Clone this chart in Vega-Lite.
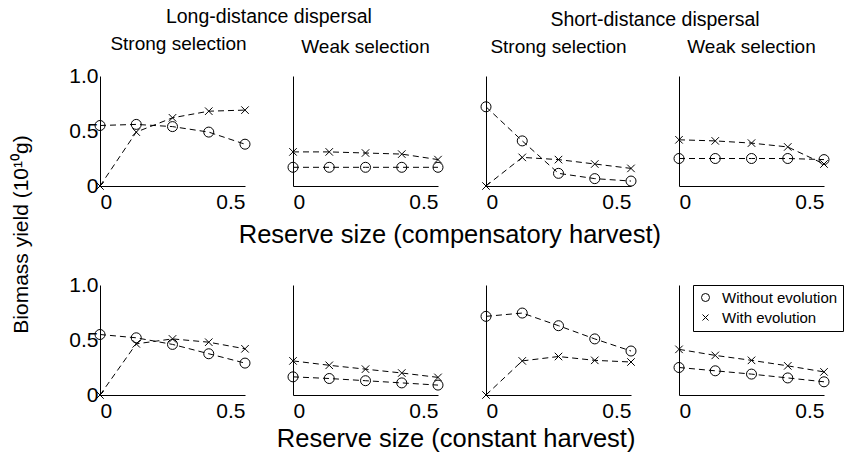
{
  "$schema": "https://vega.github.io/schema/vega-lite/v6.json",
  "padding": {"left": 10, "top": 6, "right": 0, "bottom": 0},
  "background": "white",
  "config": {
    "view": {"stroke": null},
    "font": "Liberation Sans",
    "axis": {"grid": false, "ticks": false, "domainColor": "black", "domainWidth": 1, "labelColor": "black", "labelFontSize": 21, "labelFont": "Liberation Sans", "title": null, "labelPadding": 3},
    "axisX": {"labelPadding": 5},
    "title": {"fontSize": 19.5, "fontWeight": "normal", "color": "black", "font": "Liberation Sans", "anchor": "middle"},
    "concat": {"spacing": 34}
  },
  "datasets": {
    "yields": [
      {"panel": 1, "evolution": "Without evolution", "reserve": 0, "yield": 0.55},
      {"panel": 1, "evolution": "Without evolution", "reserve": 0.125, "yield": 0.56},
      {"panel": 1, "evolution": "Without evolution", "reserve": 0.25, "yield": 0.54},
      {"panel": 1, "evolution": "Without evolution", "reserve": 0.375, "yield": 0.49},
      {"panel": 1, "evolution": "Without evolution", "reserve": 0.5, "yield": 0.38},
      {"panel": 1, "evolution": "With evolution", "reserve": 0, "yield": 0},
      {"panel": 1, "evolution": "With evolution", "reserve": 0.125, "yield": 0.49},
      {"panel": 1, "evolution": "With evolution", "reserve": 0.25, "yield": 0.62},
      {"panel": 1, "evolution": "With evolution", "reserve": 0.375, "yield": 0.68},
      {"panel": 1, "evolution": "With evolution", "reserve": 0.5, "yield": 0.69},
      {"panel": 2, "evolution": "Without evolution", "reserve": 0, "yield": 0.17},
      {"panel": 2, "evolution": "Without evolution", "reserve": 0.125, "yield": 0.17},
      {"panel": 2, "evolution": "Without evolution", "reserve": 0.25, "yield": 0.17},
      {"panel": 2, "evolution": "Without evolution", "reserve": 0.375, "yield": 0.17},
      {"panel": 2, "evolution": "Without evolution", "reserve": 0.5, "yield": 0.17},
      {"panel": 2, "evolution": "With evolution", "reserve": 0, "yield": 0.31},
      {"panel": 2, "evolution": "With evolution", "reserve": 0.125, "yield": 0.31},
      {"panel": 2, "evolution": "With evolution", "reserve": 0.25, "yield": 0.3},
      {"panel": 2, "evolution": "With evolution", "reserve": 0.375, "yield": 0.29},
      {"panel": 2, "evolution": "With evolution", "reserve": 0.5, "yield": 0.24},
      {"panel": 3, "evolution": "Without evolution", "reserve": 0, "yield": 0.72},
      {"panel": 3, "evolution": "Without evolution", "reserve": 0.125, "yield": 0.41},
      {"panel": 3, "evolution": "Without evolution", "reserve": 0.25, "yield": 0.115},
      {"panel": 3, "evolution": "Without evolution", "reserve": 0.375, "yield": 0.067},
      {"panel": 3, "evolution": "Without evolution", "reserve": 0.5, "yield": 0.045},
      {"panel": 3, "evolution": "With evolution", "reserve": 0, "yield": 0},
      {"panel": 3, "evolution": "With evolution", "reserve": 0.125, "yield": 0.26},
      {"panel": 3, "evolution": "With evolution", "reserve": 0.25, "yield": 0.24},
      {"panel": 3, "evolution": "With evolution", "reserve": 0.375, "yield": 0.2},
      {"panel": 3, "evolution": "With evolution", "reserve": 0.5, "yield": 0.16},
      {"panel": 4, "evolution": "Without evolution", "reserve": 0, "yield": 0.25},
      {"panel": 4, "evolution": "Without evolution", "reserve": 0.125, "yield": 0.25},
      {"panel": 4, "evolution": "Without evolution", "reserve": 0.25, "yield": 0.25},
      {"panel": 4, "evolution": "Without evolution", "reserve": 0.375, "yield": 0.25},
      {"panel": 4, "evolution": "Without evolution", "reserve": 0.5, "yield": 0.24},
      {"panel": 4, "evolution": "With evolution", "reserve": 0, "yield": 0.42},
      {"panel": 4, "evolution": "With evolution", "reserve": 0.125, "yield": 0.41},
      {"panel": 4, "evolution": "With evolution", "reserve": 0.25, "yield": 0.39},
      {"panel": 4, "evolution": "With evolution", "reserve": 0.375, "yield": 0.355},
      {"panel": 4, "evolution": "With evolution", "reserve": 0.5, "yield": 0.2},
      {"panel": 5, "evolution": "Without evolution", "reserve": 0, "yield": 0.55},
      {"panel": 5, "evolution": "Without evolution", "reserve": 0.125, "yield": 0.52},
      {"panel": 5, "evolution": "Without evolution", "reserve": 0.25, "yield": 0.46},
      {"panel": 5, "evolution": "Without evolution", "reserve": 0.375, "yield": 0.375},
      {"panel": 5, "evolution": "Without evolution", "reserve": 0.5, "yield": 0.29},
      {"panel": 5, "evolution": "With evolution", "reserve": 0, "yield": 0},
      {"panel": 5, "evolution": "With evolution", "reserve": 0.125, "yield": 0.465},
      {"panel": 5, "evolution": "With evolution", "reserve": 0.25, "yield": 0.51},
      {"panel": 5, "evolution": "With evolution", "reserve": 0.375, "yield": 0.48},
      {"panel": 5, "evolution": "With evolution", "reserve": 0.5, "yield": 0.42},
      {"panel": 6, "evolution": "Without evolution", "reserve": 0, "yield": 0.165},
      {"panel": 6, "evolution": "Without evolution", "reserve": 0.125, "yield": 0.15},
      {"panel": 6, "evolution": "Without evolution", "reserve": 0.25, "yield": 0.13},
      {"panel": 6, "evolution": "Without evolution", "reserve": 0.375, "yield": 0.11},
      {"panel": 6, "evolution": "Without evolution", "reserve": 0.5, "yield": 0.09},
      {"panel": 6, "evolution": "With evolution", "reserve": 0, "yield": 0.31},
      {"panel": 6, "evolution": "With evolution", "reserve": 0.125, "yield": 0.27},
      {"panel": 6, "evolution": "With evolution", "reserve": 0.25, "yield": 0.235},
      {"panel": 6, "evolution": "With evolution", "reserve": 0.375, "yield": 0.2},
      {"panel": 6, "evolution": "With evolution", "reserve": 0.5, "yield": 0.16},
      {"panel": 7, "evolution": "Without evolution", "reserve": 0, "yield": 0.715},
      {"panel": 7, "evolution": "Without evolution", "reserve": 0.125, "yield": 0.745},
      {"panel": 7, "evolution": "Without evolution", "reserve": 0.25, "yield": 0.63},
      {"panel": 7, "evolution": "Without evolution", "reserve": 0.375, "yield": 0.51},
      {"panel": 7, "evolution": "Without evolution", "reserve": 0.5, "yield": 0.4},
      {"panel": 7, "evolution": "With evolution", "reserve": 0, "yield": 0},
      {"panel": 7, "evolution": "With evolution", "reserve": 0.125, "yield": 0.31},
      {"panel": 7, "evolution": "With evolution", "reserve": 0.25, "yield": 0.35},
      {"panel": 7, "evolution": "With evolution", "reserve": 0.375, "yield": 0.315},
      {"panel": 7, "evolution": "With evolution", "reserve": 0.5, "yield": 0.3},
      {"panel": 8, "evolution": "Without evolution", "reserve": 0, "yield": 0.25},
      {"panel": 8, "evolution": "Without evolution", "reserve": 0.125, "yield": 0.22},
      {"panel": 8, "evolution": "Without evolution", "reserve": 0.25, "yield": 0.19},
      {"panel": 8, "evolution": "Without evolution", "reserve": 0.375, "yield": 0.155},
      {"panel": 8, "evolution": "Without evolution", "reserve": 0.5, "yield": 0.12},
      {"panel": 8, "evolution": "With evolution", "reserve": 0, "yield": 0.415},
      {"panel": 8, "evolution": "With evolution", "reserve": 0.125, "yield": 0.36},
      {"panel": 8, "evolution": "With evolution", "reserve": 0.25, "yield": 0.315},
      {"panel": 8, "evolution": "With evolution", "reserve": 0.375, "yield": 0.265},
      {"panel": 8, "evolution": "With evolution", "reserve": 0.5, "yield": 0.21}
    ]
  },
  "title": {"text": "Biomass yield (10¹⁰g)", "orient": "left", "anchor": "middle", "fontSize": 21, "offset": 37, "dx": -5},
  "resolve": {"scale": {"shape": "independent"}, "legend": {"shape": "independent"}},
  "spacing": 25,
  "vconcat": [
    {
      "title": {"text": "Reserve size (compensatory harvest)", "orient": "bottom", "anchor": "middle", "fontSize": 25.5, "offset": 11},
      "resolve": {"scale": {"shape": "independent"}, "legend": {"shape": "independent"}},
      "hconcat": [
        {
          "title": {"text": "Long-distance dispersal", "anchor": "middle", "offset": 8, "dx": 12},
          "resolve": {"scale": {"shape": "independent"}, "legend": {"shape": "independent"}},
          "hconcat": [
            {
              "title": {"text": "Strong selection", "fontSize": 19, "anchor": "middle", "offset": 11, "dx": 6},
              "width": 145, "height": 110,
              "data": {"name": "yields"},
              "transform": [{"filter": "datum.panel == 1"}],
              "encoding": {
                "x": {"field": "reserve", "type": "quantitative", "scale": {"domain": [0, 0.5], "nice": false, "zero": false}, "axis": {"values": [0, 0.5], "labelExpr": "datum.value == 0 ? '0' : format(datum.value, '.1f')"}},
                "y": {"field": "yield", "type": "quantitative", "scale": {"domain": [0, 1], "nice": false}, "axis": {"values": [0, 0.5, 1], "labelExpr": "datum.value == 0 ? '0' : format(datum.value, '.1f')", "labelPadding": 2}}
              },
              "layer": [
                {"mark": {"type": "line", "color": "black", "strokeWidth": 1, "strokeDash": [6, 4]}, "encoding": {"detail": {"field": "evolution"}}},
                {"mark": {"type": "point", "filled": false, "color": "black", "strokeWidth": 1, "size": 100, "opacity": 1}, "encoding": {"shape": {"field": "evolution", "type": "nominal", "scale": {"domain": ["Without evolution", "With evolution"], "range": ["circle", "M-0.75,-0.75L0.75,0.75M0.75,-0.75L-0.75,0.75"]}, "legend": null}}}
              ]
            },
            {
              "title": {"text": "Weak selection", "fontSize": 19, "anchor": "middle", "offset": 19},
              "width": 145, "height": 110,
              "data": {"name": "yields"},
              "transform": [{"filter": "datum.panel == 2"}],
              "encoding": {
                "x": {"field": "reserve", "type": "quantitative", "scale": {"domain": [0, 0.5], "nice": false, "zero": false}, "axis": {"values": [0, 0.5], "labelExpr": "datum.value == 0 ? '0' : format(datum.value, '.1f')"}},
                "y": {"field": "yield", "type": "quantitative", "scale": {"domain": [0, 1], "nice": false}, "axis": {"values": [0, 0.5, 1], "labels": false}}
              },
              "layer": [
                {"mark": {"type": "line", "color": "black", "strokeWidth": 1, "strokeDash": [6, 4]}, "encoding": {"detail": {"field": "evolution"}}},
                {"mark": {"type": "point", "filled": false, "color": "black", "strokeWidth": 1, "size": 100, "opacity": 1}, "encoding": {"shape": {"field": "evolution", "type": "nominal", "scale": {"domain": ["Without evolution", "With evolution"], "range": ["circle", "M-0.75,-0.75L0.75,0.75M0.75,-0.75L-0.75,0.75"]}, "legend": null}}}
              ]
            }
          ]
        },
        {
          "title": {"text": "Short-distance dispersal", "anchor": "middle", "offset": 8},
          "resolve": {"scale": {"shape": "independent"}, "legend": {"shape": "independent"}},
          "hconcat": [
            {
              "title": {"text": "Strong selection", "fontSize": 19, "anchor": "middle", "offset": 19},
              "width": 145, "height": 110,
              "data": {"name": "yields"},
              "transform": [{"filter": "datum.panel == 3"}],
              "encoding": {
                "x": {"field": "reserve", "type": "quantitative", "scale": {"domain": [0, 0.5], "nice": false, "zero": false}, "axis": {"values": [0, 0.5], "labelExpr": "datum.value == 0 ? '0' : format(datum.value, '.1f')"}},
                "y": {"field": "yield", "type": "quantitative", "scale": {"domain": [0, 1], "nice": false}, "axis": {"values": [0, 0.5, 1], "labels": false}}
              },
              "layer": [
                {"mark": {"type": "line", "color": "black", "strokeWidth": 1, "strokeDash": [6, 4]}, "encoding": {"detail": {"field": "evolution"}}},
                {"mark": {"type": "point", "filled": false, "color": "black", "strokeWidth": 1, "size": 100, "opacity": 1}, "encoding": {"shape": {"field": "evolution", "type": "nominal", "scale": {"domain": ["Without evolution", "With evolution"], "range": ["circle", "M-0.75,-0.75L0.75,0.75M0.75,-0.75L-0.75,0.75"]}, "legend": null}}}
              ]
            },
            {
              "title": {"text": "Weak selection", "fontSize": 19, "anchor": "middle", "offset": 19},
              "width": 145, "height": 110,
              "data": {"name": "yields"},
              "transform": [{"filter": "datum.panel == 4"}],
              "encoding": {
                "x": {"field": "reserve", "type": "quantitative", "scale": {"domain": [0, 0.5], "nice": false, "zero": false}, "axis": {"values": [0, 0.5], "labelExpr": "datum.value == 0 ? '0' : format(datum.value, '.1f')"}},
                "y": {"field": "yield", "type": "quantitative", "scale": {"domain": [0, 1], "nice": false}, "axis": {"values": [0, 0.5, 1], "labels": false}}
              },
              "layer": [
                {"mark": {"type": "line", "color": "black", "strokeWidth": 1, "strokeDash": [6, 4]}, "encoding": {"detail": {"field": "evolution"}}},
                {"mark": {"type": "point", "filled": false, "color": "black", "strokeWidth": 1, "size": 100, "opacity": 1}, "encoding": {"shape": {"field": "evolution", "type": "nominal", "scale": {"domain": ["Without evolution", "With evolution"], "range": ["circle", "M-0.75,-0.75L0.75,0.75M0.75,-0.75L-0.75,0.75"]}, "legend": null}}}
              ]
            }
          ]
        }
      ]
    },
    {
      "title": {"text": "Reserve size (constant harvest)", "orient": "bottom", "anchor": "middle", "fontSize": 25.5, "offset": 6},
      "resolve": {"scale": {"shape": "independent"}, "legend": {"shape": "independent"}},
      "hconcat": [
        {
          "width": 145, "height": 110,
          "data": {"name": "yields"},
          "transform": [{"filter": "datum.panel == 5"}],
          "encoding": {
            "x": {"field": "reserve", "type": "quantitative", "scale": {"domain": [0, 0.5], "nice": false, "zero": false}, "axis": {"values": [0, 0.5], "labelExpr": "datum.value == 0 ? '0' : format(datum.value, '.1f')"}},
            "y": {"field": "yield", "type": "quantitative", "scale": {"domain": [0, 1], "nice": false}, "axis": {"values": [0, 0.5, 1], "labelExpr": "datum.value == 0 ? '0' : format(datum.value, '.1f')", "labelPadding": 2}}
          },
          "layer": [
            {"mark": {"type": "line", "color": "black", "strokeWidth": 1, "strokeDash": [6, 4]}, "encoding": {"detail": {"field": "evolution"}}},
            {"mark": {"type": "point", "filled": false, "color": "black", "strokeWidth": 1, "size": 100, "opacity": 1}, "encoding": {"shape": {"field": "evolution", "type": "nominal", "scale": {"domain": ["Without evolution", "With evolution"], "range": ["circle", "M-0.75,-0.75L0.75,0.75M0.75,-0.75L-0.75,0.75"]}, "legend": null}}}
          ]
        },
        {
          "width": 145, "height": 110,
          "data": {"name": "yields"},
          "transform": [{"filter": "datum.panel == 6"}],
          "encoding": {
            "x": {"field": "reserve", "type": "quantitative", "scale": {"domain": [0, 0.5], "nice": false, "zero": false}, "axis": {"values": [0, 0.5], "labelExpr": "datum.value == 0 ? '0' : format(datum.value, '.1f')"}},
            "y": {"field": "yield", "type": "quantitative", "scale": {"domain": [0, 1], "nice": false}, "axis": {"values": [0, 0.5, 1], "labels": false}}
          },
          "layer": [
            {"mark": {"type": "line", "color": "black", "strokeWidth": 1, "strokeDash": [6, 4]}, "encoding": {"detail": {"field": "evolution"}}},
            {"mark": {"type": "point", "filled": false, "color": "black", "strokeWidth": 1, "size": 100, "opacity": 1}, "encoding": {"shape": {"field": "evolution", "type": "nominal", "scale": {"domain": ["Without evolution", "With evolution"], "range": ["circle", "M-0.75,-0.75L0.75,0.75M0.75,-0.75L-0.75,0.75"]}, "legend": null}}}
          ]
        },
        {
          "width": 145, "height": 110,
          "data": {"name": "yields"},
          "transform": [{"filter": "datum.panel == 7"}],
          "encoding": {
            "x": {"field": "reserve", "type": "quantitative", "scale": {"domain": [0, 0.5], "nice": false, "zero": false}, "axis": {"values": [0, 0.5], "labelExpr": "datum.value == 0 ? '0' : format(datum.value, '.1f')"}},
            "y": {"field": "yield", "type": "quantitative", "scale": {"domain": [0, 1], "nice": false}, "axis": {"values": [0, 0.5, 1], "labels": false}}
          },
          "layer": [
            {"mark": {"type": "line", "color": "black", "strokeWidth": 1, "strokeDash": [6, 4]}, "encoding": {"detail": {"field": "evolution"}}},
            {"mark": {"type": "point", "filled": false, "color": "black", "strokeWidth": 1, "size": 100, "opacity": 1}, "encoding": {"shape": {"field": "evolution", "type": "nominal", "scale": {"domain": ["Without evolution", "With evolution"], "range": ["circle", "M-0.75,-0.75L0.75,0.75M0.75,-0.75L-0.75,0.75"]}, "legend": null}}}
          ]
        },
        {
          "width": 145, "height": 110,
          "data": {"name": "yields"},
          "transform": [{"filter": "datum.panel == 8"}],
          "encoding": {
            "x": {"field": "reserve", "type": "quantitative", "scale": {"domain": [0, 0.5], "nice": false, "zero": false}, "axis": {"values": [0, 0.5], "labelExpr": "datum.value == 0 ? '0' : format(datum.value, '.1f')"}},
            "y": {"field": "yield", "type": "quantitative", "scale": {"domain": [0, 1], "nice": false}, "axis": {"values": [0, 0.5, 1], "labels": false}}
          },
          "layer": [
            {"mark": {"type": "line", "color": "black", "strokeWidth": 1, "strokeDash": [6, 4]}, "encoding": {"detail": {"field": "evolution"}}},
            {"mark": {"type": "point", "filled": false, "color": "black", "strokeWidth": 1, "size": 100, "opacity": 1}, "encoding": {"shape": {"field": "evolution", "type": "nominal", "scale": {"domain": ["Without evolution", "With evolution"], "range": ["circle", "M-0.75,-0.75L0.75,0.75M0.75,-0.75L-0.75,0.75"]}, "legend": {"orient": "none", "legendX": 14, "legendY": 0, "title": null, "strokeColor": "black", "padding": 5, "labelFontSize": 15, "labelColor": "black", "labelOffset": 9, "symbolSize": 64, "symbolStrokeColor": "black", "symbolStrokeWidth": 1, "rowPadding": 4, "cornerRadius": 0}}}}
          ]
        }
      ]
    }
  ]
}
